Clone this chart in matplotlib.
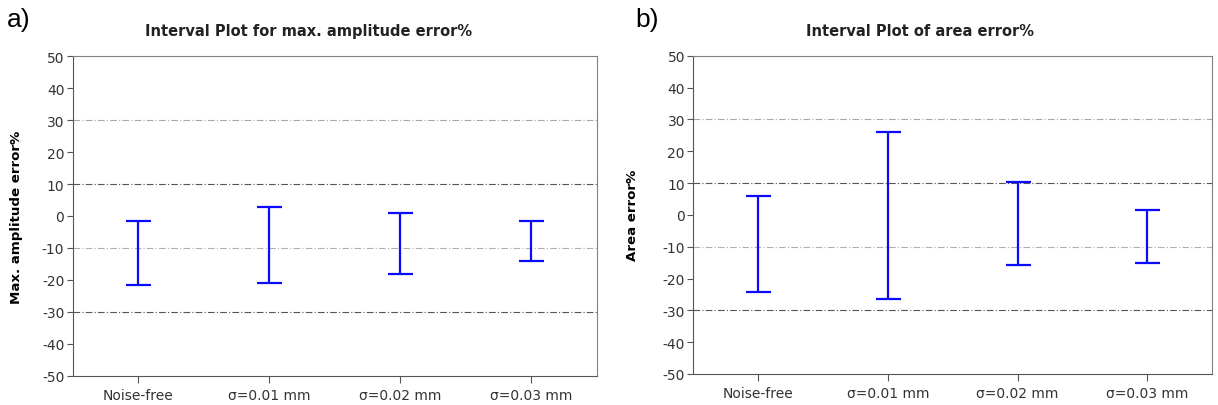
import numpy as np
import matplotlib.pyplot as plt

# ---------------------------------------------------------------
# Data (interval low / high)
# ---------------------------------------------------------------
categories = ["Noise-free", "σ=0.01 mm", "σ=0.02 mm", "σ=0.03 mm"]

amp_low = [-21.5, -20.9, -18.1, -14.0]
amp_high = [-1.5, 2.9, 0.8, -1.5]

area_low = [-24.1, -26.4, -15.8, -15.1]
area_high = [6.0, 26.0, 10.2, 1.5]

yticks = np.arange(-50, 51, 10)

plt.rcParams['font.family'] = ['DejaVu Sans']
plt.rcParams['axes.unicode_minus'] = False  # plain hyphen like the original

W, H = 1218, 406
fig = plt.figure(figsize=(W / 100, H / 100), dpi=100)

# axes boxes given in pixels of the reference -> figure fraction
def box(x0, x1, ytop, ybot):
    return [x0 / W, 1 - ybot / H, (x1 - x0) / W, (ybot - ytop) / H]

panels = [
    (box(72.7, 596.7, 57.3, 376.7), amp_low, amp_high, "Interval Plot for max. amplitude error%",
     "Max. amplitude error%", "a)", 7, 309, 17),
    (box(693.3, 1212.3, 56.7, 375), area_low, area_high, "Interval Plot of area error%",
     "Area error%", "b)", 635, 920, 632),
]

for pos, lo, hi, title, ylabel, tag, tagx, titlex, labx in panels:
    ax = fig.add_axes(pos)
    lo = np.array(lo); hi = np.array(hi)
    x = np.arange(len(categories))
    mid = (lo + hi) / 2
    ax.errorbar(x, mid, yerr=[mid - lo, hi - mid], fmt='none', ecolor='#0a0aff',
                elinewidth=1.6, capsize=9.0, capthick=1.6)

    # dash-dot reference lines
    for yv, c in [(30, '#a8a8a8'), (10, '#555555'), (-10, '#b0b0b0'), (-30, '#555555')]:
        ax.axhline(yv, color=c, lw=0.8, ls=(0, (6, 2, 1, 2)), zorder=0)

    ax.set_xlim(-0.5, 3.5)
    ax.set_ylim(-50, 50)
    ax.set_yticks(yticks)
    ax.set_xticks(x)
    ax.set_xticklabels(categories)
    ax.tick_params(labelsize=10, labelcolor='#333333', color='#555555', length=4, width=0.8, pad=2)
    ax.tick_params(axis='x', length=5, pad=4)
    for s in ['left', 'bottom']:
        ax.spines[s].set_color('#555555')
    for s in ['top', 'right']:
        ax.spines[s].set_color('#808080')

    ax.set_ylabel(ylabel, fontsize=9.6, fontweight='bold', va='center')
    ax.yaxis.set_label_coords((labx - pos[0] * W) / (pos[2] * W), 0.5)
    fig.text(titlex / W, 1 - 36 / H, title, fontsize=10.5, fontweight='bold', color='#222222',
             ha='center', va='baseline')
    fig.text(tagx / W, 1 - 27 / H, tag, fontsize=19, family='Liberation Sans', va='baseline')

fig.savefig("out.png", dpi=100)
